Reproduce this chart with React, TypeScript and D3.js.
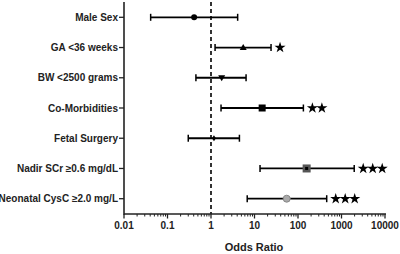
import React from "react";
import * as d3 from "d3";

const categories = [
  "Male Sex",
  "GA <36 weeks",
  "BW <2500 grams",
  "Co-Morbidities",
  "Fetal Surgery",
  "Nadir SCr \u22650.6 mg/dL",
  "Neonatal CysC \u22652.0 mg/L",
];
const oddsRatio = [0.41, 5.5, 1.76, 15, 1.17, 158, 55];
const ciLow = [0.041, 1.24, 0.45, 1.7, 0.3, 13.4, 6.8];
const ciHigh = [4.1, 24, 6.4, 133, 4.5, 1960, 457];
const starCounts = [0, 1, 0, 2, 0, 3, 3];
const markerTypes = ["circle", "triangle", "triangleDown", "square", "diamond", "squareGray", "circleGray"];
const tickValues = [0.01, 0.1, 1, 10, 100, 1000, 10000];
const tickLabels = ["0.01", "0.1", "1", "10", "100", "1000", "10000"];
const xTitle = "Odds Ratio";

const W = 400;
const H = 254;
const left = 124;
const right = 385;
const axisY = 214;
const font = "'Liberation Sans', Arial, sans-serif";

export default function App() {
  const x = d3.scaleLog().domain([0.01, 10000]).range([left, right]);
  const y = d3
    .scalePoint<string>()
    .domain(categories)
    .range([17.3, 198.7]);

  const minor: number[] = [];
  for (let e = -2; e < 4; e++) {
    for (let k = 2; k <= 9; k++) minor.push(k * Math.pow(10, e));
  }

  const star = d3.symbol().type(d3.symbolStar).size(38)() as string;

  const marker = (t: string, cx: number, cy: number) => {
    switch (t) {
      case "circle":
        return <circle cx={cx} cy={cy} r={3} fill="#000" />;
      case "triangle":
        return <path d={`M${cx},${cy - 3.5}L${cx + 3.5},${cy + 2.5}L${cx - 3.5},${cy + 2.5}Z`} fill="#000" />;
      case "triangleDown":
        return <path d={`M${cx},${cy + 3.5}L${cx + 3.5},${cy - 2.5}L${cx - 3.5},${cy - 2.5}Z`} fill="#000" />;
      case "square":
        return <rect x={cx - 3.5} y={cy - 3.5} width={7} height={7} fill="#000" />;
      case "diamond":
        return <path d={`M${cx},${cy - 3}L${cx + 2},${cy}L${cx},${cy + 3}L${cx - 2},${cy}Z`} fill="#000" />;
      case "squareGray":
        return (
          <g>
            <rect x={cx - 4} y={cy - 4} width={8} height={8} fill="#555" />
            <rect x={cx - 1.5} y={cy - 1.5} width={3} height={3} fill="#000" />
          </g>
        );
      case "circleGray":
        return <circle cx={cx} cy={cy} r={3.5} fill="#aaa" stroke="#888" strokeWidth={1} />;
    }
    return null;
  };

  return (
    <svg width={W} height={H} style={{ position: "absolute", left: 0, top: 0, background: "#fff" }}>
      {/* reference line at 1 */}
      <line x1={x(1)} x2={x(1)} y1={2} y2={axisY} stroke="#000" strokeWidth={1.6} strokeDasharray="4,3" />

      {/* y axis */}
      <line x1={left} x2={left} y1={2} y2={axisY + 0.75} stroke="#222" strokeWidth={1.6} />
      {categories.map((c) => (
        <g key={c}>
          <line x1={left - 5} x2={left} y1={y(c)!} y2={y(c)!} stroke="#222" strokeWidth={1.3} />
          <text
            x={left - 6}
            y={y(c)!}
            dy="0.35em"
            textAnchor="end"
            fontFamily={font}
            fontWeight="bold"
            fontSize={10}
            fill="#222"
          >
            {c}
          </text>
        </g>
      ))}

      {/* x axis */}
      <line x1={left} x2={right + 1} y1={axisY} y2={axisY} stroke="#222" strokeWidth={1.6} />
      {minor.map((v, i) => (
        <line key={"m" + i} x1={x(v)} x2={x(v)} y1={axisY} y2={axisY + 2.5} stroke="#222" strokeWidth={1} />
      ))}
      {tickValues.map((v, i) => (
        <g key={"t" + i}>
          <line x1={x(v)} x2={x(v)} y1={axisY} y2={axisY + 4.5} stroke="#222" strokeWidth={1.3} />
          <text
            x={x(v)}
            y={axisY + 15}
            textAnchor="middle"
            fontFamily={font}
            fontWeight="bold"
            fontSize={10}
            fill="#222"
          >
            {tickLabels[i]}
          </text>
        </g>
      ))}
      <text x={254} y={251} textAnchor="middle" fontFamily={font} fontWeight="bold" fontSize={11} fill="#222">
        {xTitle}
      </text>

      {/* error bars */}
      {categories.map((c, i) => {
        const cy = y(c)!;
        const x0 = x(ciLow[i]);
        const x1 = x(ciHigh[i]);
        const stars = [];
        for (let s = 0; s < starCounts[i]; s++) {
          stars.push(
            <path key={s} d={star} transform={`translate(${x1 + 9 + s * 9.5},${cy})`} fill="#000" />
          );
        }
        return (
          <g key={"e" + c}>
            <line x1={x0} x2={x1} y1={cy} y2={cy} stroke="#000" strokeWidth={1.8} />
            <line x1={x0} x2={x0} y1={cy - 3.5} y2={cy + 3.5} stroke="#000" strokeWidth={1.5} />
            <line x1={x1} x2={x1} y1={cy - 3.5} y2={cy + 3.5} stroke="#000" strokeWidth={1.5} />
            {marker(markerTypes[i], x(oddsRatio[i]), cy)}
            {stars}
          </g>
        );
      })}
    </svg>
  );
}
